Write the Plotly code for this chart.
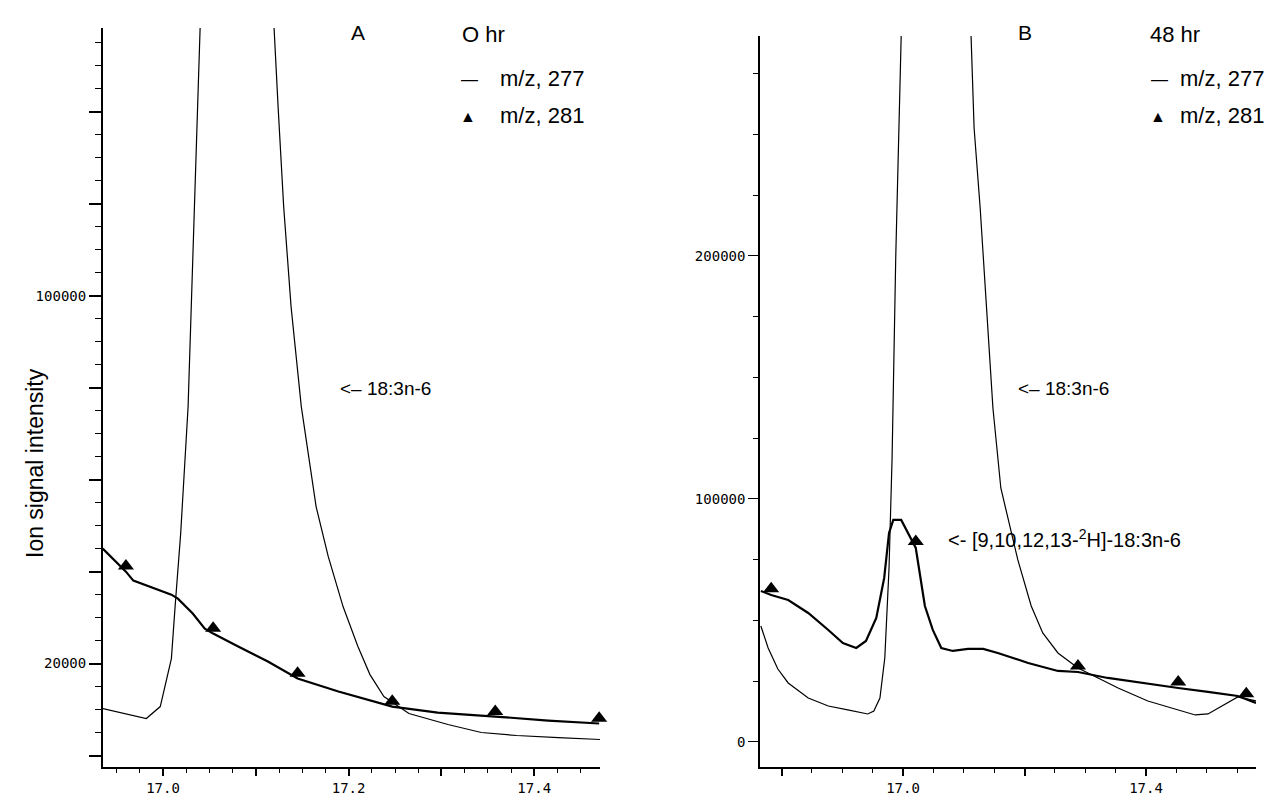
import plotly.graph_objects as go

# ---------------- data (retention time in min, ion signal intensity) ----------------
# Panel A (0 hr)
a_277_time = [16.935, 16.982, 16.997, 17.009, 17.013, 17.019, 17.027, 17.040, 17.075,
              17.1196, 17.124, 17.130, 17.138, 17.149, 17.165, 17.178, 17.194, 17.210,
              17.223, 17.238, 17.265, 17.307, 17.343, 17.381, 17.426, 17.471]
a_277_signal = [10220, 8040, 10650, 21090, 32390, 48260, 75870, 158500, 300000,
                158500, 141100, 119400, 97600, 75900, 54100, 43300, 32400, 23700,
                17600, 12830, 9130, 6740, 5000, 4350, 3910, 3480]

a_281_time = [16.935, 16.960, 16.968, 17.009, 17.016, 17.032, 17.045, 17.054, 17.081,
              17.113, 17.145, 17.189, 17.247, 17.296, 17.358, 17.415, 17.470]
a_281_signal = [45000, 40000, 38050, 35000, 34130, 30870, 27610, 26520, 23700,
                20440, 16740, 13910, 10650, 9350, 8480, 7610, 6960]
a_281_mark_time = [16.960, 17.054, 17.145, 17.247, 17.358, 17.470]
a_281_mark_signal = [41200, 27700, 17900, 11800, 9600, 8100]

# Panel B (48 hr)
b_277_time = [16.766, 16.778, 16.794, 16.811, 16.844, 16.877, 16.909, 16.942, 16.952,
              16.962, 16.970, 16.977, 16.982, 16.988, 16.997, 17.05, 17.112, 17.117,
              17.127, 17.137, 17.148, 17.161, 17.173, 17.189, 17.211, 17.230, 17.255,
              17.288, 17.321, 17.354, 17.403, 17.453, 17.481, 17.502, 17.527, 17.551, 17.581]
b_277_signal = [47730, 38680, 30000, 24280, 18100, 14810, 13170, 11520, 12760,
                18110, 34570, 71600, 116870, 199170, 290500, 600000, 290500, 252660,
                219740, 178590, 137440, 104520, 92180, 74890, 55960, 44850, 36620,
                30450, 26340, 22220, 16870, 13170, 11110, 11520, 15230, 18520, 16870]

b_281_time = [16.766, 16.783, 16.811, 16.844, 16.877, 16.901, 16.923, 16.939, 16.956,
              16.969, 16.977, 16.984, 16.997, 17.008, 17.021, 17.036, 17.049, 17.063,
              17.082, 17.107, 17.132, 17.156, 17.206, 17.255, 17.288, 17.337, 17.403,
              17.453, 17.502, 17.551, 17.581]
b_281_signal = [62140, 60490, 58430, 53080, 46090, 40740, 38680, 41560, 51030,
                67490, 86000, 91350, 91350, 86000, 79830, 55960, 46090, 38680,
                37450, 38270, 38270, 36620, 32510, 29220, 28800, 26340, 23870,
                22220, 20580, 18930, 16050]
b_281_mark_time = [16.783, 17.021, 17.288, 17.453, 17.565]
b_281_mark_signal = [63000, 82500, 31300, 24700, 19800]

# tick labels
a_x_ticks = [17.0, 17.1, 17.2, 17.3, 17.4]
a_x_labels = ["17.0", " ", "17.2", " ", "17.4"]
a_y_ticks = [0, 20000, 40000, 60000, 80000, 100000, 120000, 140000]
a_y_labels = [" ", "20000", " ", " ", " ", "100000", " ", " "]
b_x_ticks = [16.8, 17.0, 17.2, 17.4]
b_x_labels = [" ", "17.0", " ", "17.4"]
b_y_ticks = [0, 100000, 200000]
b_y_labels = ["0", "100000", "200000"]

W, H = 1279, 797
TXT = "Liberation Sans, Arial, sans-serif"
MONO = "DejaVu Sans Mono, monospace"

fig = go.Figure()

def add_panel(xa, ya, t277, s277, t281, s281, mt, ms):
    fig.add_trace(go.Scatter(x=t277, y=s277, mode="lines", xaxis=xa, yaxis=ya,
                             line=dict(color="black", width=1.2), showlegend=False,
                             hoverinfo="skip"))
    fig.add_trace(go.Scatter(x=t281, y=s281, mode="lines", xaxis=xa, yaxis=ya,
                             line=dict(color="black", width=2.2), showlegend=False,
                             hoverinfo="skip"))
    fig.add_trace(go.Scatter(x=mt, y=ms, mode="markers", xaxis=xa, yaxis=ya,
                             marker=dict(symbol="triangle-up", size=14, color="black"),
                             showlegend=False, hoverinfo="skip", cliponaxis=False))

add_panel("x", "y", a_277_time, a_277_signal, a_281_time, a_281_signal,
          a_281_mark_time, a_281_mark_signal)
add_panel("x2", "y2", b_277_time, b_277_signal, b_281_time, b_281_signal,
          b_281_mark_time, b_281_mark_signal)

def px_x(p):
    return p / W

def px_y(p):
    return 1 - p / H

axis_common = dict(showgrid=False, zeroline=False, showline=True, linecolor="black",
                   ticks="outside", tickcolor="black", mirror=False,
                   tickfont=dict(family=MONO, size=14, color="black"))

fig.update_layout(
    width=W, height=H,
    margin=dict(l=0, r=0, t=0, b=0),
    paper_bgcolor="white", plot_bgcolor="white",
    xaxis=dict(domain=[px_x(95), px_x(592)], range=[16.9353, 17.4709], anchor="y",
               tickmode="array", tickvals=a_x_ticks, ticktext=a_x_labels,
               ticklen=7, tickwidth=1.5, linewidth=2,
               minor=dict(ticks="outside", dtick=0.025, tick0=17.0, ticklen=4,
                          tickwidth=1.2, tickcolor="black"),
               **axis_common),
    yaxis=dict(domain=[px_y(759), px_y(20)], range=[-2500, 158260], anchor="x",
               tickmode="array", tickvals=a_y_ticks, ticktext=a_y_labels,
               ticklen=12, tickwidth=1.5, linewidth=2,
               minor=dict(ticks="outside", dtick=5000, tick0=0, ticklen=6,
                          tickwidth=1.2, tickcolor="black"),
               **axis_common),
    xaxis2=dict(domain=[px_x(752), px_x(1248)], range=[16.7646, 17.581], anchor="y2",
                tickmode="array", tickvals=b_x_ticks, ticktext=b_x_labels,
                ticklen=7, tickwidth=1.5, linewidth=2,
                minor=dict(ticks="outside", dtick=0.05, tick0=17.0, ticklen=4,
                           tickwidth=1.2, tickcolor="black"),
                **axis_common),
    yaxis2=dict(domain=[px_y(759), px_y(28)], range=[-10300, 290500], anchor="x2",
                tickmode="array", tickvals=b_y_ticks, ticktext=b_y_labels,
                ticklen=10, tickwidth=1.2, linewidth=1.5,
                minor=dict(ticks="outside", dtick=25000, tick0=0, ticklen=5,
                           tickwidth=1, tickcolor="black"),
                **axis_common),
)

def note(text, x, y, size=19, xanchor="left", angle=0):
    fig.add_annotation(text=text, x=px_x(x), y=px_y(y), xref="paper", yref="paper",
                       xanchor=xanchor, yanchor="middle", showarrow=False,
                       textangle=angle, font=dict(family=TXT, size=size, color="black"))

# y-axis title
note("Ion signal intensity", 27, 455, size=23, xanchor="center", angle=-90)

# Panel A labels
note("A", 350, 24, size=21, xanchor="center")
note("O hr", 452, 27, size=22)
note("—", 451, 71, size=17)
note("m/z, 277", 490, 70, size=22)
note("▲", 450, 109, size=16)
note("m/z, 281", 490, 108, size=22)
note("<– 18:3n-6", 330, 380, size=19)

# Panel B labels
note("B", 1017, 25, size=21, xanchor="center")
note("48 hr", 1140, 27, size=22)
note("—", 1141, 71, size=17)
note("m/z, 277", 1170, 70, size=22)
note("▲", 1140, 109, size=16)
note("m/z, 281", 1170, 108, size=22)
note("<– 18:3n-6", 1008, 380, size=19)
note("<- [9,10,12,13-<sup>2</sup>H]-18:3n-6", 938, 530, size=20)

fig.write_html("out.html")
